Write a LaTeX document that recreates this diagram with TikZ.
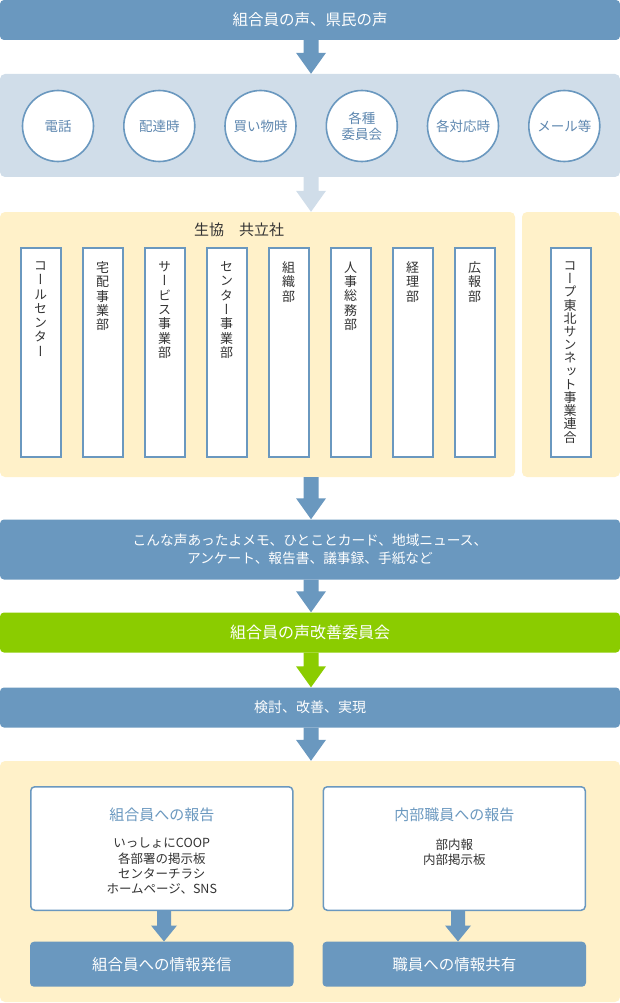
\documentclass[tikz,border=0pt]{standalone}
\usepackage{fontspec}
\setmainfont{Noto Sans CJK JP}
\newfontfamily\vjp[RawFeature=+vert]{Noto Sans CJK JP}
\usetikzlibrary{calc}
\definecolor{mblue}{HTML}{6A98BF}
\definecolor{lblue}{HTML}{D0DDE9}
\definecolor{myel}{HTML}{FFF1C9}
\definecolor{mgreen}{HTML}{8BCC00}
\definecolor{dtext}{HTML}{333333}
\definecolor{ctext}{HTML}{5F88B0}
% block arrow: from node, to node, x coordinate, colour, shaft half width, head half width, head length
\newcommand\barrow[7]{%
  \fill[#4] let \p1=(#1.south -| #3), \p2=(#2.north -| #3) in
   (\x1-#5,\y1) -- (\x1+#5,\y1) -- (\x1+#5,\y2+#7) -- (\x1+#6,\y2+#7) -- (\x2,\y2)
   -- (\x1-#6,\y2+#7) -- (\x1-#5,\y2+#7) -- cycle;}
\begin{document}
\begin{tikzpicture}[x=1pt,y=-1pt,
  bar/.style={fill=mblue, rounded corners=4pt, inner sep=0pt, text=white, minimum width=620pt, align=center},
  panel/.style={rounded corners=5pt, inner sep=0pt},
  circ/.style={circle, draw=mblue, line width=1.6pt, fill=white, minimum size=71pt, inner sep=0pt, text=ctext, align=center, font=\fontsize{13.5}{16}\selectfont},
  col/.style={draw=mblue, line width=2pt, fill=white, minimum width=40pt, minimum height=209pt, inner sep=0pt},
  vtext/.style={anchor=north, inner sep=0pt, align=center, text=dtext, font=\vjp\fontsize{13}{14.3}\selectfont},
  wbox/.style={draw=mblue, line width=1.5pt, fill=white, rounded corners=4pt, minimum width=262pt, minimum height=123.5pt, inner sep=0pt},
  bbox/.style={fill=mblue, rounded corners=4pt, minimum width=263.5pt, minimum height=45pt, inner sep=0pt, text=white, font=\fontsize{15.5}{18}\selectfont},
]
\useasboundingbox (0,0) rectangle (620,1003);
\coordinate (ax) at (311,0);
\coordinate (al) at (164,0);
\coordinate (ar) at (458,0);

% top bar
\node[bar, minimum height=40pt, font=\fontsize{15.5}{18}\selectfont] (top) at (310,20) {組合員の声、県民の声};

% channels panel
\node[panel, fill=lblue, minimum width=620pt, minimum height=103pt] (chan) at (310,125.5) {};
\node[circ] (k1) at (58,126) {電話};
\node[circ] (k2) at (159.3,126) {配達時};
\node[circ] (k3) at (260.5,126) {買い物時};
\node[circ] (k4) at (361.8,126) {各種\\委員会};
\node[circ] (k5) at (463,126) {各対応時};
\node[circ] (k6) at (564.3,126) {メール等};

% organisation panels
\node[panel, fill=myel, minimum width=515pt, minimum height=265pt] (coop) at (257.5,344.5) {};
\node[panel, fill=myel, minimum width=98pt, minimum height=265pt] (union) at (571,344.5) {};
\node[text=dtext, inner sep=0pt, font=\fontsize{15}{18}\selectfont] (coopt) at (239,229.5) {生協　共立社};

\node[col] (c1) at (41,352) {};
\node[col] (c2) at (103,352) {};
\node[col] (c3) at (165,352) {};
\node[col] (c4) at (227,352) {};
\node[col] (c5) at (289,352) {};
\node[col] (c6) at (351,352) {};
\node[col] (c7) at (413,352) {};
\node[col] (c8) at (475,352) {};
\node[col] (c9) at (570.7,352) {};
\node[vtext] (t1) at (40.5,261.5) {コ\\ー\\ル\\セ\\ン\\タ\\ー};
\node[vtext] (t2) at (102.5,261.5) {宅\\配\\事\\業\\部};
\node[vtext] (t3) at (164.5,261.5) {サ\\ー\\ビ\\ス\\事\\業\\部};
\node[vtext] (t4) at (226.5,261.5) {セ\\ン\\タ\\ー\\事\\業\\部};
\node[vtext] (t5) at (288.5,261.5) {組\\織\\部};
\node[vtext] (t6) at (350.5,261.5) {人\\事\\総\\務\\部};
\node[vtext] (t7) at (412.5,261.5) {経\\理\\部};
\node[vtext] (t8) at (474.5,261.5) {広\\報\\部};
\node[vtext, font=\vjp\fontsize{13}{13.2}\selectfont] (t9) at (570.2,261.5) {コ\\ー\\プ\\東\\北\\サ\\ン\\ネ\\ッ\\ト\\事\\業\\連\\合};

% flow bars
\node[bar, minimum height=60pt, font=\fontsize{13.7}{18}\selectfont] (memo) at (310,549.5) {こんな声あったよメモ、ひとことカード、地域ニュース、\\アンケート、報告書、議事録、手紙など};
\node[bar, fill=mgreen, minimum height=40pt, font=\fontsize{16}{18}\selectfont] (comm) at (310,632.5) {組合員の声改善委員会};
\node[bar, minimum height=40pt, font=\fontsize{14}{18}\selectfont] (act) at (310,707.5) {検討、改善、実現};

% reporting panel
\node[panel, fill=myel, minimum width=620pt, minimum height=241pt] (rep) at (310,881.5) {};
\node[wbox] (lw) at (161.75,848.5) {};
\node[wbox] (rw) at (454.25,848.5) {};
\node[text=mblue, inner sep=0pt, font=\fontsize{15}{18}\selectfont] (lwt) at (161.75,815) {組合員への報告};
\node[text=mblue, inner sep=0pt, font=\fontsize{15}{18}\selectfont] (rwt) at (454.25,815) {内部職員への報告};
\node[text=dtext, inner sep=0pt, align=center, font=\fontsize{12.5}{15.3}\selectfont] (lwb) at (161.75,866.2) {いっしょにCOOP\\各部署の掲示板\\センターチラシ\\ホームページ、SNS};
\node[text=dtext, inner sep=0pt, align=center, font=\fontsize{12.5}{15.3}\selectfont] (rwb) at (454.25,852) {部内報\\内部掲示板};
\node[bbox] (lb) at (161.75,964.2) {組合員への情報発信};
\node[bbox] (rb) at (454.25,964.2) {職員への情報共有};

% arrows
\barrow{top}{chan}{ax}{mblue}{7.5pt}{15pt}{21pt}
\barrow{chan}{coop}{ax}{lblue}{7.5pt}{15pt}{21pt}
\barrow{coop}{memo}{ax}{mblue}{7.5pt}{15pt}{21pt}
\barrow{memo}{comm}{ax}{mblue}{7.5pt}{15pt}{21pt}
\barrow{comm}{act}{ax}{mgreen}{7.5pt}{15pt}{21pt}
\barrow{act}{rep}{ax}{mblue}{7.5pt}{15pt}{21pt}
\barrow{lw}{lb}{al}{mblue}{7pt}{13pt}{16pt}
\barrow{rw}{rb}{ar}{mblue}{7pt}{13pt}{16pt}
\end{tikzpicture}
\end{document}
